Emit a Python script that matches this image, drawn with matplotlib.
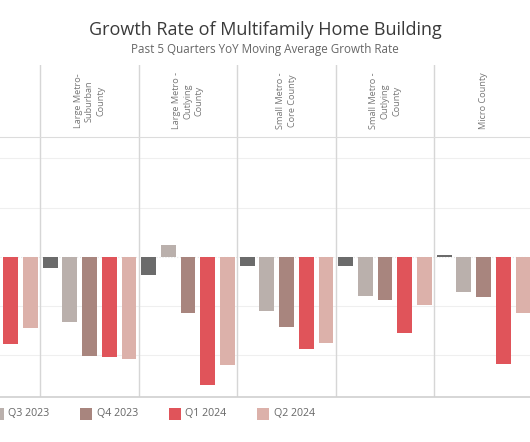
from matplotlib import pyplot as plt

plt.rcParams['font.family'] = ['Open Sans', 'DejaVu Sans']

# 数据 (同比增长率, %)
regions = ['Large Metro -\nCore County', 'Large Metro-\nSuburban\nCounty', 'Large Metro -\nOutlying\nCounty',
           'Small Metro -\nCore County', 'Small Metro -\nOutlying\nCounty', 'Micro County']
quarters = ['Q2 2023', 'Q3 2023', 'Q4 2023', 'Q1 2024', 'Q2 2024']
colors = ['#6b6b6b', '#bab0ac', '#a8857e', '#e0545a', '#dcb1aa']
q2_2023 = [-3.0, -2.3, -3.6, -1.9, -1.9, 0.4]
q3_2023 = [-12.0, -13.3, 2.5, -11.0, -7.9, -7.2]
q4_2023 = [-16.0, -20.2, -11.5, -14.3, -8.8, -8.2]
q1_2024 = [-17.6, -20.4, -26.1, -18.7, -15.4, -21.7]
q2_2024 = [-14.5, -20.8, -21.9, -17.5, -9.7, -11.4]
series = [q2_2023, q3_2023, q4_2023, q1_2024, q2_2024]

fig = plt.figure(figsize=(5.3, 4.42), dpi=100)
W, H = 530, 442

# 标题
fig.text(0.5, 1 - 30 / H, 'Growth Rate of Multifamily Home Building', ha='center', va='center',
         fontsize=13, color='#3a3a3a')
fig.text(0.5, 1 - 50 / H, 'Past 5 Quarters YoY Moving Average Growth Rate', ha='center', va='center',
         fontsize=8.4, color='#666666')

n = len(quarters)
x_lo, x_hi = 5 - 40.3 / 19.7, 5 + (W - 40.3) / 19.7

# 主图
ax = fig.add_axes([0, 45.3 / H, 1, (396.7 - 136.7) / H])
for q, vals in enumerate(series):
    xs = [p * n + q + 0.5 for p in range(len(regions))]
    ax.bar(xs, vals, width=0.75, color=colors[q], zorder=3)
ax.set_xlim(x_lo, x_hi)
ax.set_ylim(-28.4, 24.4)
for y in [-20, -10, 10, 20]:
    ax.axhline(y, color='#efefef', lw=0.8, zorder=1)
ax.axhline(0, color='#e6e6e6', lw=0.8, ls=':', zorder=2)
for p in range(1, len(regions)):
    ax.axvline(p * n, color='#d6d6d6', lw=1, zorder=2)
ax.set_xticks([])
ax.set_yticks([])
for s in ['left', 'right']:
    ax.spines[s].set_visible(False)
ax.spines['top'].set_color('#dcdcdc')
ax.spines['bottom'].set_color('#d0d0d0')
ax.spines['bottom'].set_linewidth(1.2)

# 表头
hx = fig.add_axes([0, (H - 136.7) / H, 1, (136.7 - 65) / H])
hx.set_xlim(x_lo, x_hi)
hx.set_ylim(0, 1)
for p in range(1, len(regions)):
    hx.axvline(p * n, color='#d6d6d6', lw=1)
for p, name in enumerate(regions):
    hx.text(p * n + n / 2, 0.5, name, rotation=90, ha='center', va='center', multialignment='center',
            fontsize=6.6, color='#777777', linespacing=1.35)
hx.axis('off')

# 图例
lx = fig.add_axes([0, (H - 423) / H, 1, 18 / H])
lx.set_xlim(90.8 / 88.5, (W + 90.8) / 88.5)
lx.set_ylim(-1, 1)
lx.scatter(range(n), [0] * n, marker='s', s=76, c=colors, linewidths=0)
for i, q in enumerate(quarters):
    lx.text(i + 0.122, 0, q, ha='left', va='center', fontsize=7.7, color='#666666')
lx.axis('off')

plt.savefig('out.png', dpi=100)
